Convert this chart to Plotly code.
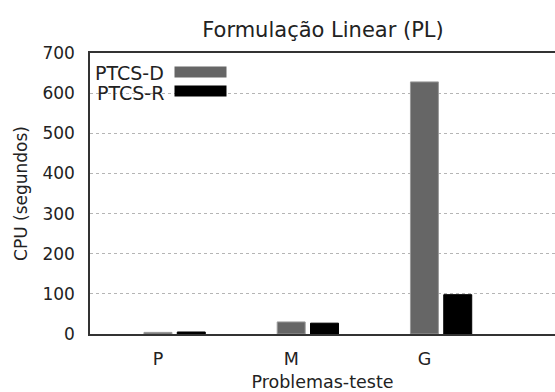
import plotly.graph_objects as go

categories = ["P", "M", "G"]
ptcs_d = [4, 30, 628]
ptcs_r = [5, 27, 98]
series_names = ["PTCS-D", "PTCS-R"]
y_ticks = [0, 100, 200, 300, 400, 500, 600, 700]

GRAY = "#666666"
BLACK = "#000000"
FONT = "DejaVu Sans"

# plot area in pixels
L, R, T, B = 90, 555, 53, 334
W, H = 555, 392
def px(x):
    return (x - L) / (R - L)
def py(y):
    return (B - y) / (B - T)

fig = go.Figure()
fig.add_trace(go.Bar(x=categories, y=ptcs_d, name=series_names[0], width=0.21, offset=-0.105,
                     marker=dict(color=GRAY, line=dict(color="#9a9a9a", width=1))))
fig.add_trace(go.Bar(x=categories, y=ptcs_r, name=series_names[1], width=0.21, offset=0.145,
                     marker=dict(color=BLACK, line=dict(color=BLACK, width=1))))

shapes = [
    dict(type="rect", xref="paper", yref="paper", x0=px(91), x1=px(233), y0=py(100), y1=py(57),
         fillcolor="white", line=dict(width=0), layer="between"),
    dict(type="rect", xref="paper", yref="paper", x0=px(174.5), x1=px(226.5), y0=py(77.5), y1=py(66.5),
         fillcolor=GRAY, line=dict(width=0)),
    dict(type="rect", xref="paper", yref="paper", x0=px(174.5), x1=px(226.5), y0=py(96.5), y1=py(85.5),
         fillcolor=BLACK, line=dict(width=0)),
]
annotations = [
    dict(text=series_names[0], xref="paper", yref="paper", x=px(166), y=py(73), xanchor="right",
         yanchor="middle", showarrow=False, font=dict(family=FONT, size=19, color="#222")),
    dict(text=series_names[1], xref="paper", yref="paper", x=px(166), y=py(93), xanchor="right",
         yanchor="middle", showarrow=False, font=dict(family=FONT, size=19, color="#222")),
]

fig.update_layout(
    width=W, height=H,
    margin=dict(l=L, r=W - R, t=T, b=H - B),
    plot_bgcolor="white", paper_bgcolor="white",
    barmode="overlay", showlegend=False,
    font=dict(family=FONT, size=17, color="#222"),
    title=dict(text="Formulação Linear (PL)", x=323 / W, xref="container", xanchor="center",
               y=1 - 30 / H, yref="container", yanchor="middle",
               font=dict(family=FONT, size=21, color="#222")),
    shapes=shapes, annotations=annotations,
)
fig.update_xaxes(type="category", range=[-0.51, 2.98], showline=True, mirror=True,
                 linecolor="#333", linewidth=1.5, showgrid=False, ticks="", ticklabelstandoff=8,
                 title=dict(text="Problemas-teste", standoff=10, font=dict(size=17.5)),
                 tickfont=dict(size=17.5))
fig.update_yaxes(range=[0, 700], tickvals=y_ticks, showline=True, mirror=False,
                 linecolor="#333", linewidth=1.5, showgrid=True, gridcolor="#b5b5b5",
                 griddash="dot", gridwidth=1, zeroline=False, ticks="", ticklabelstandoff=10,
                 title=dict(text="CPU (segundos)", standoff=10, font=dict(size=17)),
                 tickfont=dict(size=17))

fig.write_html("out.html")
